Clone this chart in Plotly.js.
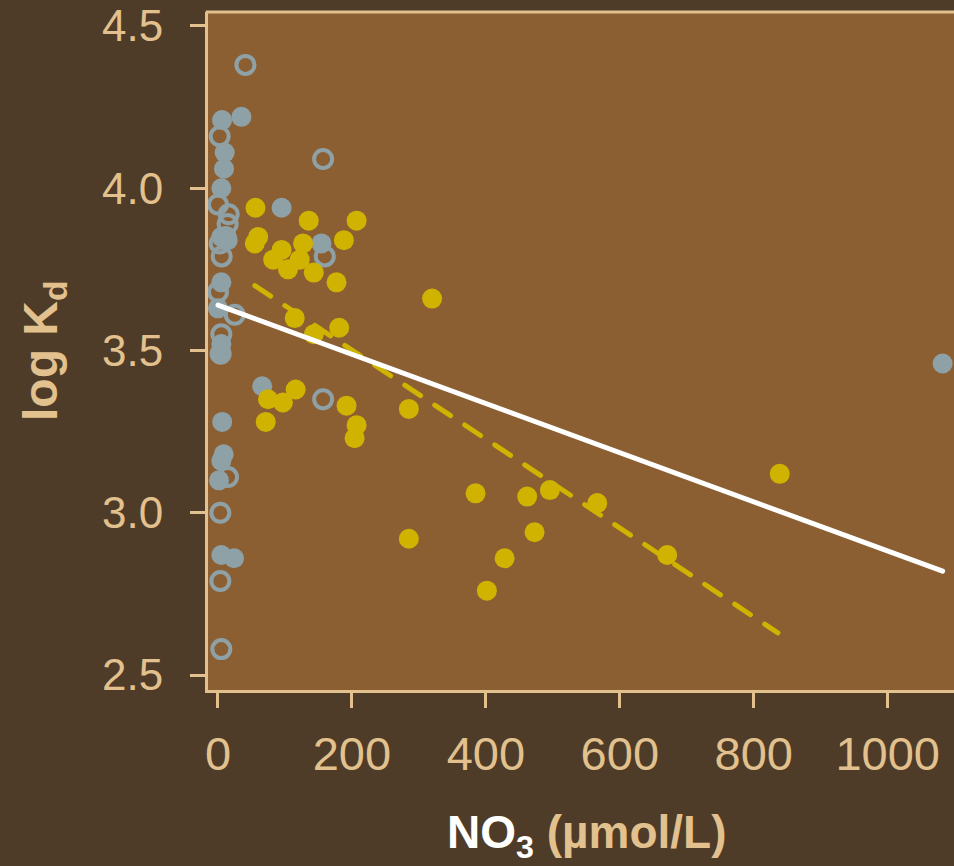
<!DOCTYPE html>
<html>
<head>
<meta charset="utf-8">
<script src="https://cdn.plot.ly/plotly-3.0.1.min.js"></script>
<style>html,body{margin:0;padding:0;background:#4E3C28;}</style>
</head>
<body>
<div id="chart" style="width:954px;height:866px;"></div>
<script>
// Gray filled points (NO3, log Kd)
const grayFilledX = [35, 6, 10, 9, 5, 95, 5, 14.5, 154.5, 5, 0, 5, 4, 66, 6.3, 8.5, 5, 1.5, 5, 24, 1082];
const grayFilledY = [4.22, 4.21, 4.11, 4.06, 4.00, 3.94, 3.85, 3.84, 3.83, 3.71, 3.63, 3.52, 3.49, 3.39, 3.28, 3.18, 3.16, 3.10, 2.87, 2.86, 3.46];
// Gray open points
const grayOpenX = [41, 2.5, 157, 0, 16, 14.5, 11.5, 2.5, 5.5, 159.5, 0, 25, 5, 4, 157, 15, 3.5, 3.5, 5];
const grayOpenY = [4.38, 4.16, 4.09, 3.95, 3.92, 3.89, 3.85, 3.83, 3.79, 3.79, 3.68, 3.61, 3.55, 3.49, 3.35, 3.11, 3.00, 2.79, 2.58];
// Yellow points
const yellowX = [56, 135.5, 207, 60, 55, 95, 82.5, 127, 122, 104.6, 143, 188, 177, 114.6, 143, 181, 74.7, 97, 116, 192, 207, 204, 71.3, 319.7, 285, 384.6, 461.7, 495.6, 566.3, 285, 472.7, 428, 401.5, 670.8, 838.8];
const yellowY = [3.94, 3.90, 3.90, 3.85, 3.83, 3.81, 3.78, 3.83, 3.78, 3.75, 3.74, 3.84, 3.71, 3.60, 3.55, 3.57, 3.35, 3.34, 3.38, 3.33, 3.27, 3.23, 3.28, 3.66, 3.32, 3.06, 3.05, 3.07, 3.03, 2.92, 2.94, 2.86, 2.76, 2.87, 3.12];
// Regression lines
const allFitX = [0, 1082];
const allFitY = [3.64, 2.82];
const yellowFitX = [55, 836];
const yellowFitY = [3.70, 2.63];

const xTicks = [0, 200, 400, 600, 800, 1000];
const yTicks = [2.5, 3.0, 3.5, 4.0, 4.5];
const yTickText = ['2.5', '3.0', '3.5', '4.0', '4.5'];

const BG = '#4E3C28', PLOT = '#8C5F33', BEIGE = '#E2C18E', GRAY = '#8EA1A7', YEL = '#CFB300';

const traces = [
  {x: grayOpenX, y: grayOpenY, type: 'scatter', mode: 'markers',
   marker: {symbol: 'circle-open', size: 18, color: GRAY, line: {color: GRAY, width: 4}}, hoverinfo: 'skip'},
  {x: grayFilledX, y: grayFilledY, type: 'scatter', mode: 'markers',
   marker: {symbol: 'circle', size: 20, color: GRAY, line: {width: 0}}, hoverinfo: 'skip'},
  {x: yellowX, y: yellowY, type: 'scatter', mode: 'markers',
   marker: {symbol: 'circle', size: 20, color: YEL, line: {width: 0}}, hoverinfo: 'skip'},
  {x: yellowFitX, y: yellowFitY, type: 'scatter', mode: 'lines',
   line: {color: YEL, width: 5, dash: '19px,17px'}, hoverinfo: 'skip'},
  {x: allFitX, y: allFitY, type: 'scatter', mode: 'lines',
   line: {color: '#FFFFFF', width: 5}, hoverinfo: 'skip'}
];

const layout = {
  width: 954, height: 866,
  paper_bgcolor: BG, plot_bgcolor: PLOT,
  showlegend: false,
  margin: {l: 208, r: 0, t: 12, b: 176, pad: 0},
  font: {family: 'Liberation Sans, Arial, sans-serif', color: BEIGE},
  xaxis: {
    range: [-14.9, 1099], showgrid: false, zeroline: false,
    showline: true, linecolor: BEIGE, linewidth: 3,
    ticks: 'outside', ticklen: 15, tickwidth: 3, tickcolor: BEIGE,
    tickvals: xTicks, ticktext: xTicks.map(String),
    tickfont: {size: 47, color: BEIGE, family: 'Liberation Sans, Arial, sans-serif'},
    ticklabelstandoff: 6
  },
  yaxis: {
    range: [2.454, 4.543], showgrid: false, zeroline: false,
    showline: true, linecolor: BEIGE, linewidth: 3,
    ticks: 'outside', ticklen: 15, tickwidth: 3, tickcolor: BEIGE,
    tickvals: yTicks, ticktext: yTickText,
    tickfont: {size: 44, color: BEIGE, family: 'Liberation Sans, Arial, sans-serif'},
    ticklabelstandoff: 18
  },
  shapes: [
    {type: 'line', xref: 'paper', yref: 'paper', x0: -0.003, x1: 1.01, y0: 1, y1: 1,
     line: {color: BEIGE, width: 3}}
  ],
  annotations: [
    {text: '<b>log K<sub>d</sub></b>', xref: 'paper', yref: 'paper', x: 0, y: 0.5,
     xanchor: 'center', yanchor: 'middle', xshift: -164, textangle: -90, showarrow: false,
     font: {size: 48, color: BEIGE, family: 'Liberation Sans, Arial, sans-serif'}},
    {text: '<b><span style="color:#FFFFFF">NO<sub>3</sub></span> (µmol/L)</b>', xref: 'paper', yref: 'paper',
     x: 0.5, y: 0, xanchor: 'center', yanchor: 'middle', xshift: 6, yshift: -145, showarrow: false,
     font: {size: 46, color: BEIGE, family: 'Liberation Sans, Arial, sans-serif'}}
  ]
};

Plotly.newPlot('chart', traces, layout, {displayModeBar: false, staticPlot: true}).then(function () {
  document.querySelectorAll('.scatterlayer .js-line').forEach(function (p) {
    p.style.strokeLinecap = 'round';
  });
});
</script>
</body>
</html>
